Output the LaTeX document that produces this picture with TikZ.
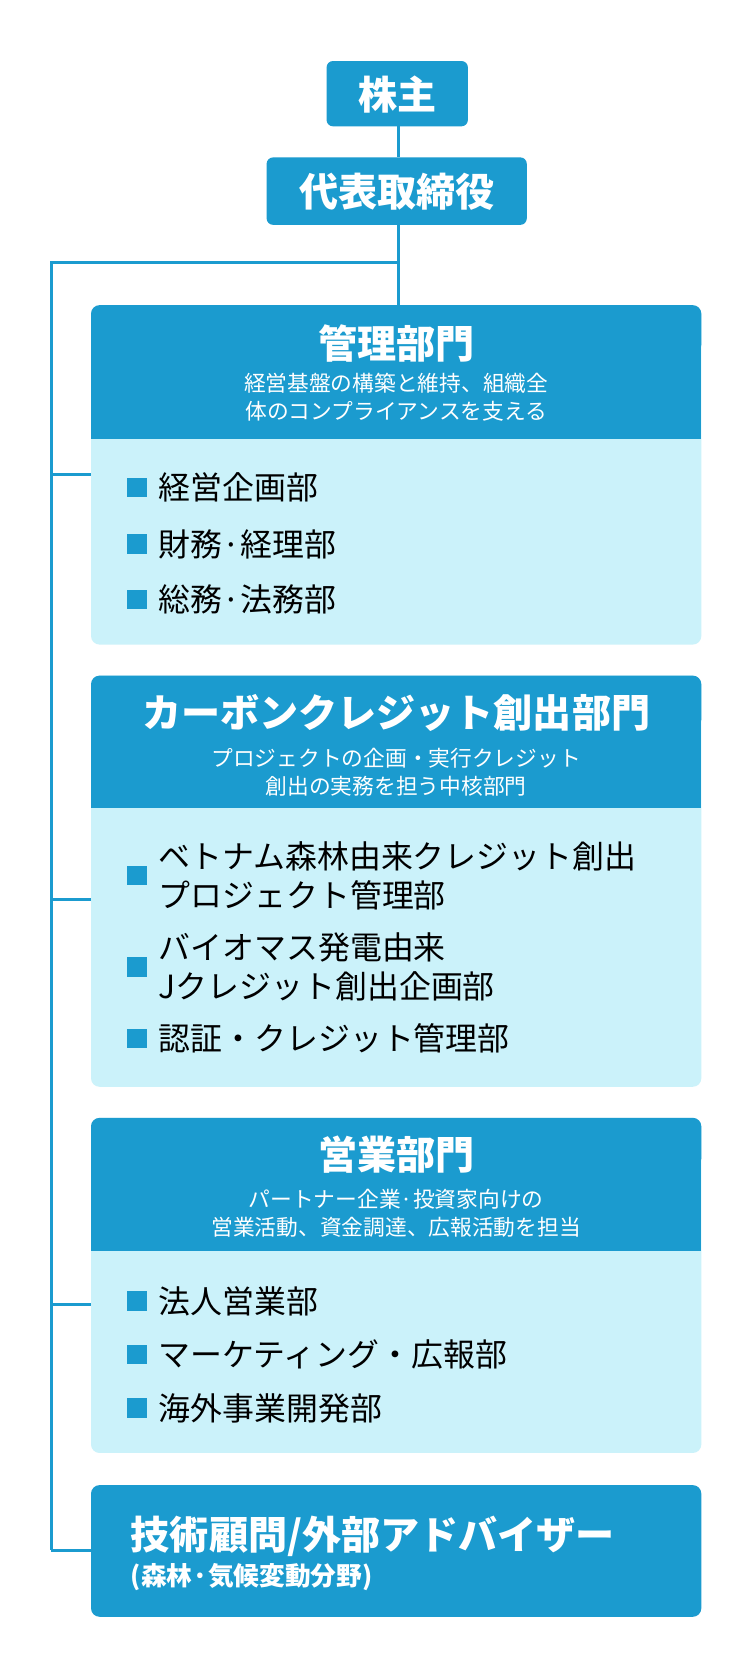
\documentclass[tikz,border=0pt]{standalone}
\usepackage{fontspec}
\setmainfont{Noto Sans CJK JP}
\definecolor{dk}{HTML}{1B9BCF}
\definecolor{lt}{HTML}{CBF2FA}
\begin{document}
\begin{tikzpicture}[x=1pt,y=-1pt,
 tb/.style={fill=dk,rounded corners=6pt,draw=none},
 ln/.style={draw=dk,line width=3pt},
 ttl/.style={text=white,font=\bfseries\fontsize{36.5}{42}\selectfont,inner sep=0},
 sub/.style={text=white,font=\fontsize{20.3}{26.5}\selectfont,inner sep=0,align=center},
 item/.style={anchor=west,font=\fontsize{29.8}{36}\selectfont,inner sep=0,align=left,text=black},
 sq/.style={fill=dk,minimum size=18pt,inner sep=0}]
\useasboundingbox (0,0) rectangle (700.5,1565.3);
\fill[white] (0,0) rectangle (700.5,1565.3);
% top boxes
\fill[tb] (305,57) rectangle (437,118);
\node[ttl] (kab) at (371,88) {株主};
\fill[tb] (249,147) rectangle (492,210);
\node[ttl] (ceo) at (371,179) {代表取締役};
\coordinate (t1) at (372,118); \coordinate (t2) at (372,147);
\coordinate (t3) at (372,210); \coordinate (t4) at (372,285);
\coordinate (j) at (372,245); \coordinate (l0) at (48,245); \coordinate (l1) at (48,1448);
\draw[ln] (t1)--(t2); \draw[ln] (t3)--(t4);
\draw[ln] (j)--(l0)--(l1);
\foreach \y in {443,840,1218,1448}{\draw[ln] (48,\y)--(86,\y);}
% section 1
\fill[lt,rounded corners=8pt] (85,285) rectangle (655,602);
\fill[dk,rounded corners=8pt] (85,285) rectangle (655,330);
\fill[dk] (85,320) rectangle (655,410);
\node[ttl] (s1) at (370,321) {管理部門};
\node[sub] (s1s) at (370,371) {経営基盤の構築と維持、組織全\\体のコンプライアンスを支える};
\node[sq] at (128,455) {}; \node[item] at (148,455) {経営企画部};
\node[sq] at (128,508) {}; \node[item] at (148,508) {財務·経理部};
\node[sq] at (128,560) {}; \node[item] at (148,560) {総務·法務部};
% section 2
\fill[lt,rounded corners=8pt] (85,631) rectangle (655,1015);
\fill[dk,rounded corners=8pt] (85,631) rectangle (655,680);
\fill[dk] (85,670) rectangle (655,755);
\node[ttl] (s2) at (370,666) {カーボンクレジット創出部門};
\node[sub] (s2s) at (370,721) {プロジェクトの企画・実行クレジット\\創出の実務を担う中核部門};
\node[sq] at (128,818) {}; \node[item] at (148,818) {ベトナム森林由来クレジット創出\\プロジェクト管理部};
\node[sq] at (128,903) {}; \node[item] at (148,903) {バイオマス発電由来\\Jクレジット創出企画部};
\node[sq] at (128,970) {}; \node[item] at (148,970) {認証・クレジット管理部};
% section 3
\fill[lt,rounded corners=8pt] (85,1044) rectangle (655,1357);
\fill[dk,rounded corners=8pt] (85,1044) rectangle (655,1090);
\fill[dk] (85,1080) rectangle (655,1168);
\node[ttl] (s3) at (370,1078) {営業部門};
\node[sub] (s3s) at (370,1133) {パートナー企業·投資家向けの\\営業活動、資金調達、広報活動を担当};
\node[sq] at (128,1215) {}; \node[item] at (148,1215) {法人営業部};
\node[sq] at (128,1265) {}; \node[item] at (148,1265) {マーケティング・広報部};
\node[sq] at (128,1315) {}; \node[item] at (148,1315) {海外事業開発部};
% section 4
\fill[dk,rounded corners=8pt] (85,1387) rectangle (655,1510);
\node[ttl,anchor=west] (s4) at (122,1435) {技術顧問/外部アドバイザー};
\node[anchor=west,text=white,font=\bfseries\fontsize{24}{28}\selectfont,inner sep=0] (s4s) at (122,1473) {(森林·気候変動分野)};
\end{tikzpicture}
\end{document}
